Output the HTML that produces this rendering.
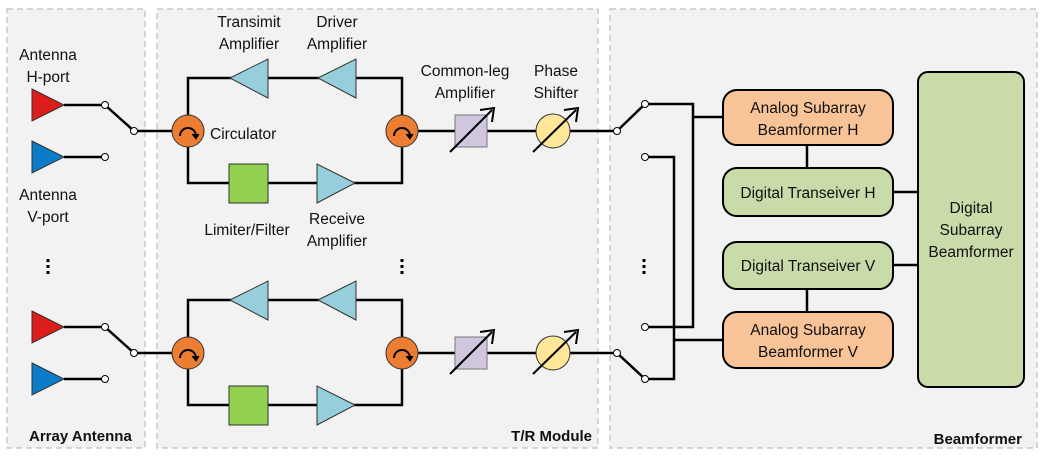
<!DOCTYPE html>
<html><head><meta charset="utf-8"><style>
body{margin:0;background:#fff;}
svg{display:block;}
text{font-family:"Liberation Sans",sans-serif;font-size:15.5px;fill:#111;}
.b{font-weight:bold;font-size:15px;}
</style></head><body>
<svg width="1047" height="458" viewBox="0 0 1047 458">
<g fill="#f2f2f2" stroke="#c8c8c8" stroke-width="1.5" stroke-dasharray="6,4">
<rect x="7" y="9" width="138" height="439"/>
<rect x="157" y="9" width="441" height="439"/>
<rect x="610" y="9" width="427" height="439"/>
</g>
<text class="b" x="29" y="441">Array Antenna</text>
<text class="b" x="592" y="441" text-anchor="end">T/R Module</text>
<text class="b" x="1022" y="444" text-anchor="end">Beamformer</text>

<g id="row" stroke="#000" stroke-width="2.5" fill="none">
<polyline points="188,131 188,78 402,78 402,131"/>
<polyline points="188,131 188,183 402,183 402,131"/>
<line x1="64" y1="105" x2="105" y2="105"/>
<line x1="64" y1="157" x2="105" y2="157"/>
<line x1="105" y1="105" x2="134" y2="131"/>
<line x1="134" y1="131" x2="188" y2="131"/>
<line x1="402" y1="131" x2="617" y2="131"/>
</g>
<g id="parts">
<g stroke="#333" stroke-width="1">
<polygon points="32,89 64,105 32,121" fill="#dd1c1c"/>
<polygon points="32,141 64,157 32,173" fill="#0b7dc8"/>
<polygon points="230,78 268,59 268,98" fill="#96cedb"/>
<polygon points="318,78 356,59 356,98" fill="#96cedb"/>
<rect x="229" y="164" width="39" height="39" fill="#92d050"/>
<polygon points="355,183 317,164 317,203" fill="#96cedb"/>
<circle cx="188" cy="131" r="16" fill="#ed7d31"/>
<circle cx="402" cy="131" r="16" fill="#ed7d31"/>
<rect x="455" y="115" width="32" height="32" fill="#d0c7df" stroke="#777"/>
<circle cx="553" cy="131" r="17" fill="#ffe699"/>
</g>
<g stroke="#000" stroke-width="2" fill="none">
<path d="M180,136 A8,8 0 1 1 196,136"/><path d="M192,134 L196,139 L199,134" fill="#000" stroke-width="1"/>
<path d="M394,136 A8,8 0 1 1 410,136"/><path d="M406,134 L410,139 L413,134" fill="#000" stroke-width="1"/>
<line x1="450" y1="152" x2="492" y2="110"/><path d="M480,110 L494,108 L492,122"/>
<line x1="533" y1="152" x2="576" y2="110"/><path d="M564,110 L578,108 L576,122"/>
</g>
<g fill="#fff" stroke="#000" stroke-width="1">
<circle cx="105" cy="105" r="3.5"/><circle cx="105" cy="157" r="3.5"/><circle cx="134" cy="131" r="3.5"/>
</g>
</g>
<use href="#row" transform="translate(0,222)"/>
<use href="#parts" transform="translate(0,222)"/>

<g stroke="#000" stroke-width="2.5" fill="none">
<line x1="617" y1="131" x2="645" y2="104"/>
<polyline points="645,104 693,104 693,327 645,327"/>
<line x1="693" y1="117" x2="723" y2="117"/>
<polyline points="645,157 674,157 674,379 645,379"/>
<line x1="674" y1="340" x2="723" y2="340"/>
<line x1="617" y1="353" x2="645" y2="379"/>
<line x1="807" y1="145" x2="807" y2="168"/>
<line x1="807" y1="289" x2="807" y2="312"/>
<line x1="893" y1="192" x2="918" y2="192"/>
<line x1="893" y1="265" x2="918" y2="265"/>
</g>
<g fill="#fff" stroke="#000" stroke-width="1">
<circle cx="617" cy="131" r="3.5"/><circle cx="645" cy="104" r="3.5"/><circle cx="645" cy="157" r="3.5"/>
<circle cx="645" cy="327" r="3.5"/><circle cx="617" cy="353" r="3.5"/><circle cx="645" cy="379" r="3.5"/>
</g>
<g stroke="#000" stroke-width="2">
<rect x="723" y="90" width="170" height="55" rx="14" fill="#f8c396"/>
<rect x="723" y="168" width="170" height="48" rx="14" fill="#c9dba9"/>
<rect x="723" y="242" width="170" height="47" rx="14" fill="#c9dba9"/>
<rect x="723" y="312" width="170" height="56" rx="14" fill="#f8c396"/>
<rect x="918" y="72" width="106" height="315" rx="10" fill="#c9dba9"/>
</g>
<g text-anchor="middle">
<text x="808" y="113">Analog Subarray</text><text x="808" y="135">Beamformer H</text>
<text x="808" y="198">Digital Transeiver H</text>
<text x="808" y="271">Digital Transeiver V</text>
<text x="808" y="335">Analog Subarray</text><text x="808" y="357">Beamformer V</text>
<text x="971" y="213">Digital</text><text x="971" y="235">Subarray</text><text x="971" y="257">Beamformer</text>
<text x="48" y="60">Antenna</text><text x="48" y="82">H-port</text>
<text x="48" y="200">Antenna</text><text x="48" y="222">V-port</text>
<text x="249" y="27">Transimit</text><text x="249" y="49">Amplifier</text>
<text x="337" y="27">Driver</text><text x="337" y="49">Amplifier</text>
<text x="247" y="235">Limiter/Filter</text>
<text x="337" y="224">Receive</text><text x="337" y="246">Amplifier</text>
<text x="465" y="76">Common-leg</text><text x="465" y="98">Amplifier</text>
<text x="556" y="76">Phase</text><text x="556" y="98">Shifter</text>
</g>
<text x="210" y="139">Circulator</text>
<g fill="#000">
<rect x="46.5" y="259" width="3" height="3"/><rect x="46.5" y="265" width="3" height="3"/><rect x="46.5" y="271" width="3" height="3"/>
<rect x="400.5" y="259" width="3" height="3"/><rect x="400.5" y="265" width="3" height="3"/><rect x="400.5" y="271" width="3" height="3"/>
<rect x="642.5" y="259" width="3" height="3"/><rect x="642.5" y="265" width="3" height="3"/><rect x="642.5" y="271" width="3" height="3"/>
</g>
</svg>
</body></html>
